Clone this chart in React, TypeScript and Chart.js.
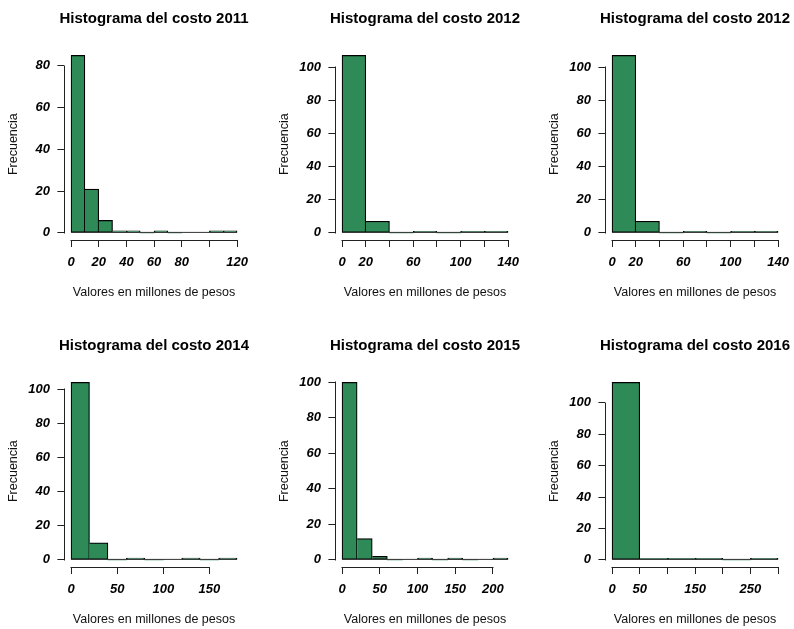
import React, { useEffect, useRef } from 'react';
import { Chart, registerables } from 'chart.js';

Chart.register(...registerables);

const FONT = "'Liberation Sans', Arial, Helvetica, sans-serif";

const xTitle = 'Valores en millones de pesos';
const yTitle = 'Frecuencia';

const title2011 = 'Histograma del costo 2011';
const bins2011 = [0, 10, 20, 30, 40, 50, 60, 70, 80, 90, 100, 110, 120];
const counts2011 = [85, 21, 6, 1, 1, 0, 1, 0, 0, 0, 1, 1];
const xTicks2011 = [0, 20, 40, 60, 80, 100, 120];
const xLabels2011 = ['0', '20', '40', '60', '80', '', '120'];
const yTicks2011 = [0, 20, 40, 60, 80];

const title2012 = 'Histograma del costo 2012';
const bins2012 = [0, 20, 40, 60, 80, 100, 120, 140];
const counts2012 = [107, 7, 0, 1, 0, 1, 1];
const xTicks2012 = [0, 20, 40, 60, 80, 100, 120, 140];
const xLabels2012 = ['0', '20', '', '60', '', '100', '', '140'];
const yTicks2012 = [0, 20, 40, 60, 80, 100];

const title2014 = 'Histograma del costo 2014';
const bins2014 = [0, 20, 40, 60, 80, 100, 120, 140, 160, 180];
const counts2014 = [104, 10, 0, 1, 0, 0, 1, 0, 1];
const xTicks2014 = [0, 50, 100, 150];
const xLabels2014 = ['0', '50', '100', '150'];
const yTicks2014 = [0, 20, 40, 60, 80, 100];

const title2015 = 'Histograma del costo 2015';
const bins2015 = [0, 20, 40, 60, 80, 100, 120, 140, 160, 180, 200, 220];
const counts2015 = [100, 12, 2, 0, 0, 1, 0, 1, 0, 0, 1];
const xTicks2015 = [0, 50, 100, 150, 200];
const xLabels2015 = ['0', '50', '100', '150', '200'];
const yTicks2015 = [0, 20, 40, 60, 80, 100];

const title2016 = 'Histograma del costo 2016';
const bins2016 = [0, 50, 100, 150, 200, 250, 300];
const counts2016 = [113, 1, 1, 1, 0, 1];
const xTicks2016 = [0, 50, 100, 150, 200, 250, 300];
const xLabels2016 = ['0', '50', '', '150', '', '250', ''];
const yTicks2016 = [0, 20, 40, 60, 80, 100];

type PanelCfg = {
  title: string;
  bins: number[];
  counts: number[];
  xTicks: number[];
  xLabels: string[];
  yTicks: number[];
};

const panels: PanelCfg[] = [
  { title: title2011, bins: bins2011, counts: counts2011, xTicks: xTicks2011, xLabels: xLabels2011, yTicks: yTicks2011 },
  { title: title2012, bins: bins2012, counts: counts2012, xTicks: xTicks2012, xLabels: xLabels2012, yTicks: yTicks2012 },
  { title: title2012, bins: bins2012, counts: counts2012, xTicks: xTicks2012, xLabels: xLabels2012, yTicks: yTicks2012 },
  { title: title2014, bins: bins2014, counts: counts2014, xTicks: xTicks2014, xLabels: xLabels2014, yTicks: yTicks2014 },
  { title: title2015, bins: bins2015, counts: counts2015, xTicks: xTicks2015, xLabels: xLabels2015, yTicks: yTicks2015 },
  { title: title2016, bins: bins2016, counts: counts2016, xTicks: xTicks2016, xLabels: xLabels2016, yTicks: yTicks2016 },
];

// canvas is wider than the panel so that the full-width title centres over the plot area
const PANEL_W = 308;
const PANEL_H = 302;
const PLOT_LEFT = 64.4;
const PLOT_RIGHT = 243.7;
const COL_LEFT = [0, 271, 541];
const ROW_TOP = [0, 327];

function Panel({ cfg, left, top }: { cfg: PanelCfg; left: number; top: number }) {
  const ref = useRef<HTMLCanvasElement>(null);

  useEffect(() => {
    if (!ref.current) return;
    const { bins, counts, xTicks, xLabels, yTicks, title } = cfg;
    const n = counts.length;
    const span = bins[n] - bins[0];
    const maxC = Math.max(...counts);
    const data = counts.map((c, i) => ({ x: (bins[i] + bins[i + 1]) / 2, y: c }));

    const rAxes = {
      id: 'rAxes',
      afterDatasetsDraw(chart: any) {
        const { ctx, chartArea, scales } = chart;
        const xs = scales.x;
        const ys = scales.y;
        ctx.save();
        // baseline of the histogram (zero-height bins)
        ctx.lineWidth = 1;
        ctx.strokeStyle = '#333';
        const base = ys.getPixelForValue(0) - 0.5;
        ctx.beginPath();
        ctx.moveTo(xs.getPixelForValue(bins[0]), base);
        ctx.lineTo(xs.getPixelForValue(bins[n]), base);
        ctx.stroke();
        // axis lines spanning the tick range only
        ctx.strokeStyle = '#222';
        const ax = Math.floor(chartArea.bottom) + 0.5;
        ctx.beginPath();
        ctx.moveTo(Math.round(xs.getPixelForValue(xTicks[0])) - 0.5, ax);
        ctx.lineTo(Math.round(xs.getPixelForValue(xTicks[xTicks.length - 1])) + 0.5, ax);
        ctx.stroke();
        const ay = Math.floor(chartArea.left) + 0.5;
        ctx.beginPath();
        ctx.moveTo(ay, Math.round(ys.getPixelForValue(yTicks[0])) + 0.5);
        ctx.lineTo(ay, Math.round(ys.getPixelForValue(yTicks[yTicks.length - 1])) - 0.5);
        ctx.stroke();
        ctx.restore();
      },
    };

    const tickFont = { family: FONT, size: 13, weight: 'bold' as const, style: 'italic' as const };
    const titleFont = { family: FONT, size: 12.5, weight: 'normal' as const };

    const chart = new Chart(ref.current, {
      type: 'bar',
      data: {
        datasets: [
          {
            data: data as any,
            xAxisID: 'x',
            yAxisID: 'y',
            backgroundColor: '#2E8B57',
            borderColor: '#000000',
            borderSkipped: false,
            borderWidth: ((ctx: any) => {
              const i = ctx.dataIndex;
              if (i === undefined) return 1.2;
              const c = counts[i];
              return {
                top: 1.2,
                bottom: 1.2,
                left: i === 0 || counts[i - 1] <= c ? 1.2 : 0,
                right: i === n - 1 || counts[i + 1] < c ? 1.2 : 0,
              };
            }) as any,
            barPercentage: 1,
            categoryPercentage: 1,
          },
        ],
      },
      options: {
        responsive: false,
        animation: false,
        devicePixelRatio: 1,
        events: [],
        layout: { padding: { left: 0, right: 0, top: 0, bottom: 0 } },
        plugins: {
          legend: { display: false },
          tooltip: { enabled: false },
          title: {
            display: true,
            text: title,
            fullSize: true,
            color: '#000',
            font: { family: FONT, size: 15, weight: 'bold' },
            padding: { top: 10.3, bottom: 20 },
          },
        },
        scales: {
          x: {
            type: 'linear',
            bounds: 'data',
            min: bins[0] - 0.04 * span,
            max: bins[n] + 0.04 * span,
            offset: false,
            afterBuildTicks: (s: any) => {
              s.ticks = xTicks.map((v) => ({ value: v }));
            },
            afterFit: (s: any) => {
              s.height = 62;
            },
            grid: {
              display: true,
              offset: false,
              drawOnChartArea: false,
              drawTicks: true,
              tickLength: 7,
              color: '#222',
              tickColor: '#222',
              lineWidth: 1,
            },
            border: { display: false },
            ticks: {
              autoSkip: false,
              maxRotation: 0,
              minRotation: 0,
              padding: 7.5,
              color: '#000',
              font: tickFont,
              callback: (_v: any, i: number) => xLabels[i],
            },
            title: {
              display: true,
              text: xTitle,
              color: '#111',
              font: titleFont,
              padding: { top: 0, bottom: 1.5 },
            },
          } as any,
          y: {
            type: 'linear',
            position: 'left',
            bounds: 'data',
            min: -0.04 * maxC,
            max: 1.04 * maxC,
            afterBuildTicks: (s: any) => {
              s.ticks = yTicks.map((v) => ({ value: v }));
            },
            afterFit: (s: any) => {
              s.width = PLOT_LEFT;
            },
            grid: {
              display: true,
              drawOnChartArea: false,
              drawTicks: true,
              tickLength: 7,
              color: '#222',
              tickColor: '#222',
              lineWidth: 1,
            },
            border: { display: false },
            ticks: {
              padding: 7.5,
              color: '#000',
              font: tickFont,
              callback: (v: any) => String(v),
            },
            title: {
              display: true,
              text: yTitle,
              color: '#111',
              font: titleFont,
              padding: { top: 5.8, bottom: 0 },
            },
          } as any,
          // invisible right-hand box that reserves the panel's right margin
          yRight: {
            type: 'linear',
            position: 'right',
            display: true,
            afterFit: (s: any) => {
              s.width = PANEL_W - PLOT_RIGHT;
            },
            grid: { display: false, drawTicks: false },
            border: { display: false },
            ticks: { display: false },
            title: { display: false },
          } as any,
        },
      },
      plugins: [rAxes],
    });
    return () => chart.destroy();
  }, [cfg]);

  return (
    <canvas
      ref={ref}
      width={PANEL_W}
      height={PANEL_H}
      style={{ position: 'absolute', left, top, width: PANEL_W, height: PANEL_H }}
    />
  );
}

export default function App() {
  return (
    <div style={{ position: 'absolute', left: 0, top: 0, width: 794, height: 629, background: '#fff', overflow: 'hidden' }}>
      {panels.map((p, i) => (
        <Panel key={i} cfg={p} left={COL_LEFT[i % 3]} top={ROW_TOP[Math.floor(i / 3)]} />
      ))}
    </div>
  );
}
